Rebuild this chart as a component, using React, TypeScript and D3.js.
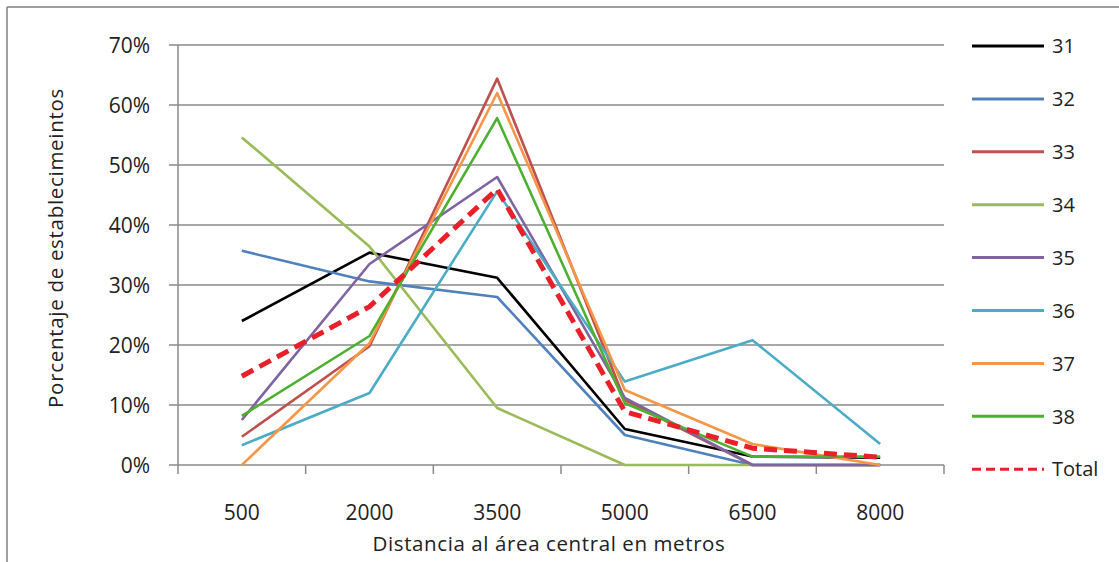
import React from 'react'
import * as d3 from 'd3'

// distances (x categories)
const distancias = ['500', '2000', '3500', '5000', '6500', '8000']
const yTicks = [0, 0.1, 0.2, 0.3, 0.4, 0.5, 0.6, 0.7]

const s31 = [0.24, 0.354, 0.312, 0.06, 0.014, 0.012]
const s32 = [0.357, 0.306, 0.28, 0.05, 0, 0]
const s33 = [0.047, 0.198, 0.644, 0.108, 0, 0]
const s34 = [0.546, 0.364, 0.095, 0, 0, 0]
const s35 = [0.075, 0.335, 0.48, 0.112, 0, 0]
const s36 = [0.033, 0.12, 0.456, 0.139, 0.208, 0.035]
const s37 = [0, 0.203, 0.62, 0.125, 0.035, 0]
const s38 = [0.082, 0.215, 0.578, 0.103, 0.014, 0.014]
const total = [0.148, 0.264, 0.46, 0.089, 0.028, 0.013]

const seriesNames = ['31', '32', '33', '34', '35', '36', '37', '38', 'Total']
const seriesValues = [s31, s32, s33, s34, s35, s36, s37, s38, total]
const seriesColors = ['#000000', '#4F81BD', '#C0504D', '#9BBB59', '#8064A2', '#4BACC6', '#F79646', '#4DB030', '#E8202A']

const font = "'Open Sans', sans-serif"

export default function App() {
    const margin = {top: 45, right: 175, bottom: 97, left: 178}
    const width = 1119
    const height = 562
    const innerW = width - margin.left - margin.right
    const innerH = height - margin.top - margin.bottom

    const x = d3.scaleBand().domain(distancias).range([0, innerW])
    const y = d3.scaleLinear().domain([0, 0.7]).range([innerH, 0])

    const line = d3.line<number>()
        .x((d, i) => (x(distancias[i]) as number) + x.bandwidth() / 2)
        .y(d => y(d))

    const bounds = distancias.map(d => x(d) as number).concat([innerW])

    return (
        <svg width={width} height={height} style={{position: 'absolute', left: 0, top: 0, background: '#fff'}}>
            {/* outer frame, only top and left visible */}
            <line x1={7} x2={width} y1={7} y2={7} stroke="#7f7f7f" strokeWidth={1.5} />
            <line x1={7} x2={7} y1={7} y2={height} stroke="#7f7f7f" strokeWidth={1.5} />
            <g transform={`translate(${margin.left},${margin.top})`}>
                {yTicks.map(t => (
                    <g key={t}>
                        <line x1={-9} x2={innerW} y1={y(t)} y2={y(t)} stroke="#8a8a8a" strokeWidth={1.5} />
                        <text x={-28} y={y(t)} dy="0.36em" textAnchor="end" fontFamily={font} fontSize={21} fill="#222">
                            {d3.format('.0%')(t)}
                        </text>
                    </g>
                ))}
                <line x1={0} x2={0} y1={0} y2={innerH} stroke="#8a8a8a" strokeWidth={1.5} />
                {bounds.map((b, i) => (
                    <line key={i} x1={b} x2={b} y1={innerH} y2={innerH + 9} stroke="#8a8a8a" strokeWidth={1.5} />
                ))}
                {distancias.map(d => (
                    <text key={d} x={(x(d) as number) + x.bandwidth() / 2} y={innerH + 55} textAnchor="middle"
                        fontFamily={font} fontSize={21} fill="#222">{d}</text>
                ))}
                <text x={innerW / 2 - 12} y={innerH + 86} textAnchor="middle" fontFamily={font} fontSize={20.5}
                    letterSpacing={0.6} fill="#222">
                    Distancia al área central en metros
                </text>
                <text transform={`translate(${-115},${innerH / 2 - 7}) rotate(-90)`} textAnchor="middle"
                    fontFamily={font} fontSize={20.5} letterSpacing={0.7} fill="#222">Porcentaje de establecimeintos</text>
                {seriesValues.map((vals, i) => (
                    <path key={seriesNames[i]} d={line(vals) || ''} fill="none" stroke={seriesColors[i]}
                        strokeWidth={seriesNames[i] === 'Total' ? 5 : 2.6}
                        strokeDasharray={seriesNames[i] === 'Total' ? '13,7' : undefined}
                        strokeLinejoin="round" />
                ))}
            </g>
            {/* legend */}
            <g transform="translate(972,46)">
                {seriesNames.map((n, i) => (
                    <g key={n} transform={`translate(0,${i * 52.9})`}>
                        <line x1={0} x2={72} y1={0} y2={0} stroke={seriesColors[i]}
                            strokeWidth={3}
                            strokeDasharray={n === 'Total' ? '9,5' : undefined} />
                        <text x={80} y={0} dy="0.36em" fontFamily={font} fontSize={20} fill="#222">{n}</text>
                    </g>
                ))}
            </g>
        </svg>
    )
}
